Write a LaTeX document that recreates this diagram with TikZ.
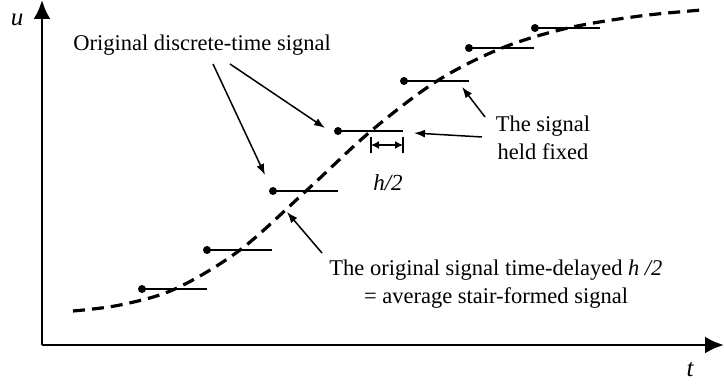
\documentclass[tikz,border=0pt]{standalone}
\usepackage{fontspec}
\setmainfont{Liberation Serif}
\usetikzlibrary{arrows.meta}

\begin{document}
\begin{tikzpicture}[x=1pt,y=-1pt,>={Latex[length=11pt,width=8pt]},
  lbl/.style={font=\fontsize{22.5}{28}\selectfont,align=center,inner sep=0pt},
  axis/.style={line width=2.8pt,-{Latex[length=19pt,width=17pt]}},
  hold/.style={line width=1.5pt},
  sample/.style={circle,fill,inner sep=0pt,minimum size=8pt},
  ptr/.style={->,line width=1.5pt}]
  \useasboundingbox (0,0) rectangle (724,385);
  % axes
  \coordinate (o) at (42,345);
  \coordinate (ytip) at (42,0);
  \coordinate (xtip) at (724,345);
  \draw[axis] (o) -- (ytip);
  \draw[axis] (o) -- (xtip);
  \node[lbl,font=\fontsize{25}{28}\selectfont\itshape] (ulab) at (17,20) {u};
  \node[lbl,font=\fontsize{25}{28}\selectfont\itshape] (tlab) at (690,370) {t};
  % delayed signal
  \draw[line width=3.2pt,dash pattern=on 12pt off 7pt] plot[smooth,tension=0.55]
    coordinates {(73,311) (120,305) (175,289) (240,250) (306,191) (371,131)
                 (437,81) (502,48) (568,28) (640,16) (702,10)};
  % samples, held for one step
  \foreach \i/\x/\y in {1/142/289, 2/207/250, 3/273/191, 4/338/131,
                        5/404/81, 6/469/48, 7/535/28} {
    \node[sample] (s\i) at (\x,\y) {};
    \draw[hold] (s\i.center) -- ++(65,0);
  }
  % h/2 mark
  \coordinate (ha) at (371,145);
  \coordinate (hb) at (403,145);
  \draw[line width=1.5pt] (371,137) -- (371,153) (403,137) -- (403,153);
  \draw[line width=1.5pt,<->,>={Latex[length=8pt,width=8pt]}] (ha) -- (hb);
  \node[lbl,font=\fontsize{23}{28}\selectfont\itshape] (hlab) at (388,183) {h/2};
  % labels
  \node[lbl] (orig) at (202,45) {Original discrete-time signal};
  \node[lbl] (held) at (543,138) {The signal\\held fixed};
  \node[lbl] (avg) at (496,284) {The original signal time-delayed \textit{h /2}\\= average stair-formed signal};
  \coordinate (o1) at (213,64);
  \coordinate (o2) at (230,64);
  \coordinate (p3) at (265,175);
  \coordinate (p4) at (325,128);
  \draw[ptr] (o1) -- (p3);
  \draw[ptr] (o2) -- (p4);
  \coordinate (f1) at (485,117);
  \coordinate (f2) at (482,137);
  \coordinate (q5) at (462,87);
  \coordinate (q4) at (414,133);
  \draw[ptr] (f1) -- (q5);
  \draw[ptr] (f2) -- (q4);
  \coordinate (a1) at (322,253);
  \coordinate (c3) at (287,212);
  \draw[ptr] (a1) -- (c3);
\end{tikzpicture}
\end{document}
